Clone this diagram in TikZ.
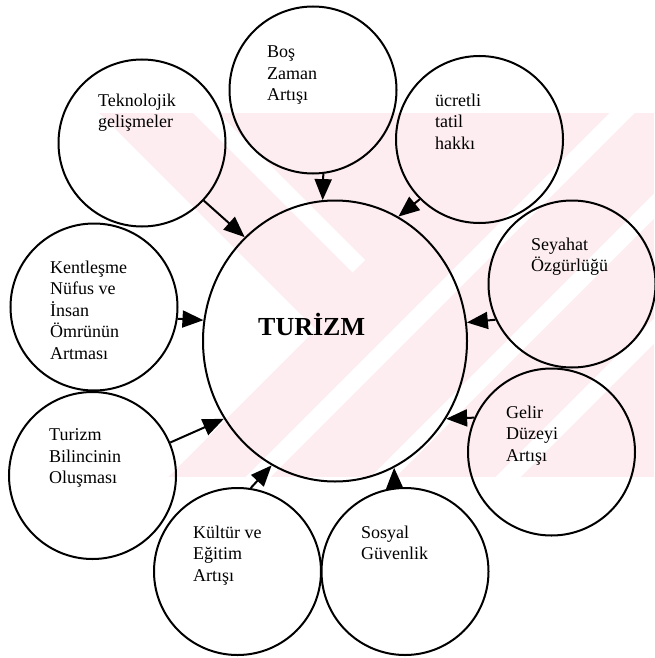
\documentclass[tikz,border=0pt]{standalone}
\usepackage{fontspec}
\setmainfont{Liberation Serif}
\usetikzlibrary{arrows.meta, shapes.geometric}
\definecolor{wmark}{RGB}{253,237,240}
\begin{document}
\begin{tikzpicture}[x=1pt, y=-1pt,
  ball/.style={circle, draw, line width=2pt, minimum size=167pt, inner sep=0pt},
  hub/.style={ellipse, draw, line width=2pt, minimum width=264pt, minimum height=281pt, inner sep=0pt},
  txt/.style={anchor=north west, inner sep=0pt, align=left, font=\fontsize{18}{21.5}\selectfont},
  arr/.style={line width=2pt, -{Triangle[length=21pt,width=17pt]}}]
\useasboundingbox (0,0) rectangle (654,658);
% Watermark
\begin{scope}
\clip (97,113) rectangle (654,477);
\fill[wmark] (97,113) rectangle (654,477);
\fill[white] (80,94) -- (315.5,329.5) -- (80,565) -- cycle;
\fill[white] (180,100) -- (352.5,272.5) -- (365,260) -- (205,100) -- cycle;
\fill[white] (222.5,500) -- (622.5,100) -- (647.5,100) -- (247.5,500) -- cycle;
\fill[white] (347.5,500) -- (747.5,100) -- (772.5,100) -- (372.5,500) -- cycle;
\fill[white] (472.5,500) -- (872.5,100) -- (897.5,100) -- (497.5,500) -- cycle;
\end{scope}
% Center
\node[hub] (tur) at (335,341) {};
\node[anchor=base west, inner sep=0pt, font=\bfseries\fontsize{26}{30}\selectfont] (tur-t) at (258,335) {TURİZM};
% Circles
\node[ball] (tek) at (142,143) {};
\node[ball] (boz) at (313,90) {};
\node[ball] (ucr) at (479.5,139.5) {};
\node[ball] (sey) at (572,284) {};
\node[ball] (gel) at (551.5,452) {};
\node[ball] (sos) at (405,571.5) {};
\node[ball] (kul) at (237.5,571.5) {};
\node[ball] (tbi) at (92.5,475.5) {};
\node[ball] (ken) at (94,307) {};
% Texts
\node[txt] (tek-t) at (98,93.7) {Teknolojik\\gelişmeler};
\node[txt] (boz-t) at (267,45.7) {Boş\\Zaman\\Artışı};
\node[txt] (ucr-t) at (435,93.7) {ücretli\\tatil\\hakkı};
\node[txt] (sey-t) at (531,237.7) {Seyahat\\Özgürlüğü};
\node[txt] (gel-t) at (506,405.7) {Gelir\\Düzeyi\\Artışı};
\node[txt] (sos-t) at (361,525.7) {Sosyal\\Güvenlik};
\node[txt] (kul-t) at (193,525.7) {Kültür ve\\Eğitim\\Artışı};
\node[txt] (tbi-t) at (49,428.7) {Turizm\\Bilincinin\\Oluşması};
\node[txt] (ken-t) at (50,260.7) {Kentleşme\\Nüfus ve\\İnsan\\Ömrünün\\Artması};
% Arrows
\draw[arr] (tek.-43) -- (tur.131);
\draw[arr] (boz.-83) -- (tur.95);
\draw[arr] (ucr.225) -- (tur.63);
\draw[arr] (sey.205) -- (tur.8);
\draw[arr] (gel.156) -- (tur.-35);
\draw[arr] (sos.97) -- (tur.-65);
\draw[arr] (kul.81) -- (tur.243);
\draw[arr] (tbi.23) -- (tur.215);
\draw[arr] (ken.-8) -- (tur.171);
\end{tikzpicture}
\end{document}
